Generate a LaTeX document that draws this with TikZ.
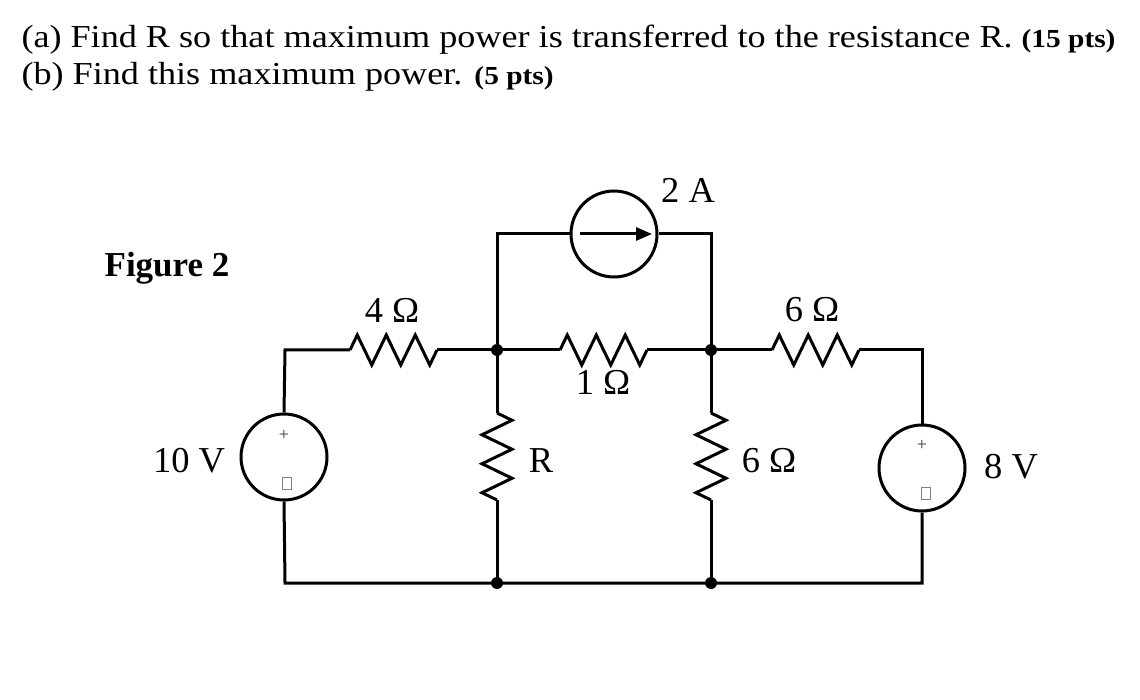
\documentclass[tikz,border=0pt]{standalone}
\usepackage{fontspec}
\setmainfont{Liberation Serif}
\newfontfamily\qfont[FakeStretch=1.13]{Liberation Serif}
\usetikzlibrary{decorations.pathmorphing,arrows.meta}

\begin{document}
\begin{tikzpicture}[x=1pt,y=-1pt,line width=3pt]
						\tikzstyle{every node}+=[inner sep=0pt]
						\tikzstyle{res}=[decorate,decoration={zigzag,segment length=29pt,amplitude=15pt}]
						\tikzstyle{src}=[draw,circle,minimum size=86pt]
						\tikzstyle{lbl}=[font=\fontsize{36.5}{42}\selectfont]
						\tikzstyle{txt}=[anchor=base west,font=\qfont\fontsize{32}{38}\selectfont]
						\tikzstyle{sgn}=[font=\fontsize{18}{20}\selectfont,gray!40!black]
						\tikzstyle{neg}=[draw=gray,line width=0.9pt,minimum width=9pt,minimum height=12pt]
						\useasboundingbox (0,0) rectangle (1140,700);
						% question text
						\node [txt] (qa) at (20,48) {(a) Find R so that maximum power is transferred to the resistance R. {\bfseries\fontsize{26}{30}\selectfont (15 pts)}};
						\node [txt] (qb) at (20,85) {(b) Find this maximum power. {\bfseries\fontsize{26}{30}\selectfont (5 pts)}};
						\node [font=\bfseries\fontsize{35}{42}\selectfont] (fig) at (167,268) {Figure 2};
						% corners and junctions
						\coordinate (tl) at (285,350);
						\coordinate (bl) at (285,583);
						\coordinate (tr) at (922,350);
						\coordinate (br) at (922,583);
						\coordinate (nA) at (497,350);
						\coordinate (nB) at (711,350);
						\coordinate (gA) at (497,583);
						\coordinate (gB) at (711,583);
						\coordinate (cA) at (497,234);
						\coordinate (cB) at (711,234);
						% sources
						\node [src] (v10) at (284,457) {};
						\node [sgn] (v10p) at (284,435) {+};
						\node [neg] (v10m) at (287,483) {};
						\node [src] (v8) at (922,468) {};
						\node [sgn] (v8p) at (922,445) {+};
						\node [neg] (v8m) at (926,493) {};
						\node [src] (i2) at (614,234) {};
						\coordinate (i2a) at (580,234);
						\coordinate (i2b) at (652,234);
						% resistor ends
						\coordinate (r4a) at (350,350);
						\coordinate (r4b) at (437,350);
						\coordinate (r1a) at (560,350);
						\coordinate (r1b) at (647,350);
						\coordinate (r6a) at (772,350);
						\coordinate (r6b) at (859,350);
						\coordinate (rRa) at (497,413);
						\coordinate (rRb) at (497,500);
						\coordinate (r6va) at (711,413);
						\coordinate (r6vb) at (711,500);
						% wires
						\draw (v10.north) -- (tl) -- (r4a);
						\draw [res] (r4a) -- (r4b);
						\draw (r4b) -- (nA) -- (r1a);
						\draw [res] (r1a) -- (r1b);
						\draw (r1b) -- (nB) -- (r6a);
						\draw [res] (r6a) -- (r6b);
						\draw (r6b) -- (tr) -- (v8.north);
						\draw (v8.south) -- (br) -- (bl) -- (v10.south);
						\draw (nA) -- (rRa);
						\draw [res] (rRa) -- (rRb);
						\draw (rRb) -- (gA);
						\draw (nB) -- (r6va);
						\draw [res] (r6va) -- (r6vb);
						\draw (r6vb) -- (gB);
						\draw (nA) -- (cA) -- (i2.west);
						\draw (i2.east) -- (cB) -- (nB);
						\draw [-{Triangle[length=16pt,width=13pt]}] (i2a) -- (i2b);
						% dots
						\fill (nA) circle (6pt);
						\fill (nB) circle (6pt);
						\fill (gA) circle (6pt);
						\fill (gB) circle (6pt);
						% labels
						\node [lbl] (l2A) at (688,190) {2 A};
						\node [lbl] (l4) at (392,310) {4 Ω};
						\node [lbl] (l1) at (603,382) {1 Ω};
						\node [lbl] (l6) at (812,310) {6 Ω};
						\node [lbl] (lR) at (541,461) {R};
						\node [lbl] (l6v) at (769,461) {6 Ω};
						\node [lbl] (l10) at (189,461) {10 V};
						\node [lbl] (l8) at (1011,467) {8 V};
					\end{tikzpicture}
\end{document}
